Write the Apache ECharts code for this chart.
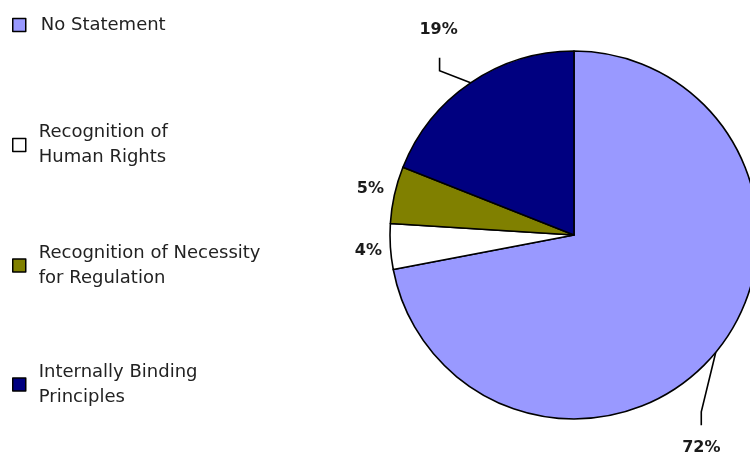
<!DOCTYPE html>
<html>
<head>
<meta charset="utf-8">
<script src="https://cdn.jsdelivr.net/npm/echarts@6/dist/echarts.min.js"></script>
<style>
html,body{margin:0;padding:0;background:#fff;}
#chart{width:750px;height:457px;}
</style>
</head>
<body>
<div id="chart"></div>
<script>
// ---- data ----
const categories = ['No Statement', 'Recognition of Human Rights', 'Recognition of Necessity for Regulation', 'Internally Binding Principles'];
const legendLabels = ['No Statement', 'Recognition of\nHuman Rights', 'Recognition of Necessity\nfor Regulation', 'Internally Binding\nPrinciples'];
const values = [72, 4, 5, 19];

// ---- style ----
const colors = ['#9999FF', '#FFFFFF', '#808000', '#000080'];
const legendTops = [12.5, 107.5, 228, 347];
// leader-line shape (relative offsets from the arc point given by ECharts)
const leaders = [
  { d1: [-14.5, 59.5], d2: [0, 13.5], lab: [0, 23] },
  { lab: [-22, 4] },
  { lab: [-24, -6.5] },
  { d1: [-31, -12], d2: [0, -13], lab: [-1, -28] }
];

const chart = echarts.init(document.getElementById('chart'), null, { renderer: 'canvas' });

const legends = categories.map((name, i) => ({
  show: true,
  data: [name],
  left: 12,
  top: legendTops[i],
  padding: 0,
  orient: 'vertical',
  icon: 'rect',
  itemWidth: 13,
  itemHeight: 13,
  selectedMode: false,
  itemStyle: { borderColor: '#000', borderWidth: 1.5 },
  formatter: () => legendLabels[i],
  textStyle: {
    fontFamily: 'DejaVu Sans',
    fontSize: 18,
    lineHeight: 25,
    color: '#222',
    padding: legendLabels[i].indexOf('\n') >= 0 ? [25, 0, 0, 8] : [0, 0, 0, 10]
  }
}));

chart.setOption({
  animation: false,
  backgroundColor: '#fff',
  legend: legends,
  series: [{
    type: 'pie',
    center: [574, 235],
    radius: 184,
    startAngle: 90,
    clockwise: true,
    avoidLabelOverlap: false,
    data: categories.map((n, i) => ({ name: n, value: values[i], itemStyle: { color: colors[i] } })),
    itemStyle: { borderColor: '#000', borderWidth: 1.6 },
    emphasis: { disabled: true },
    label: {
      show: true,
      position: 'outside',
      formatter: p => p.value + '%',
      fontFamily: 'DejaVu Sans',
      fontWeight: 'bold',
      fontSize: 16,
      color: '#1a1a1a'
    },
    labelLine: { show: true, length: 10, length2: 10, lineStyle: { color: '#000', width: 1.6 } },
    labelLayout: function (params) {
      const pts = params.labelLinePoints;
      const L = leaders[params.dataIndex];
      const p0 = pts[0];
      let linePts, end;
      if (L.d1) {
        const p1 = [p0[0] + L.d1[0], p0[1] + L.d1[1]];
        const p2 = [p1[0] + L.d2[0], p1[1] + L.d2[1]];
        linePts = [p0, p1, p2];
        end = p2;
      } else {
        linePts = [p0, p0, p0];
        end = p0;
      }
      return {
        x: end[0] + L.lab[0],
        y: end[1] + L.lab[1],
        align: 'center',
        verticalAlign: 'middle',
        labelLinePoints: linePts
      };
    }
  }]
});
</script>
</body>
</html>
